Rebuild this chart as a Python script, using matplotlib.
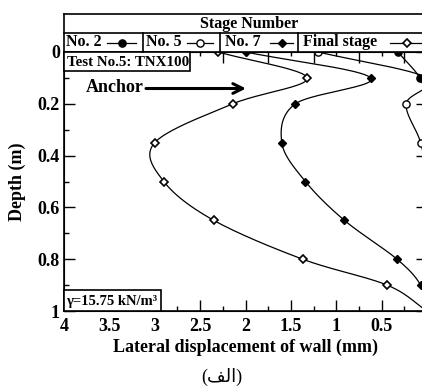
import matplotlib
matplotlib.use('Agg')
import matplotlib.pyplot as plt
import numpy as np
from matplotlib.patches import Rectangle
from matplotlib.ticker import FixedLocator, FuncFormatter

plt.rcParams['font.family'] = ['Liberation Serif', 'DejaVu Sans']
plt.rcParams['font.weight'] = 'bold'
plt.rcParams['axes.labelweight'] = 'bold'

depth = [0.0, 0.1, 0.2, 0.35, 0.5, 0.65, 0.8, 0.9, 1.0]
stage_2 = [0.32, 0.08, 0.0, 0.0, 0.0, 0.0, 0.0, 0.0, 0.0]
stage_5 = [1.20, 0.0, 0.23, 0.07, 0.0, 0.0, 0.0, 0.0, 0.0]
stage_7 = [2.00, 0.62, 1.45, 1.60, 1.34, 0.91, 0.33, 0.07, 0.0]
final_stage = [2.30, 1.32, 2.14, 3.00, 2.90, 2.35, 1.37, 0.44, 0.0]

stage_names = ['No. 2', 'No. 5', 'No. 7', 'Final stage']

W, H = 422, 387


def smooth(x, y, n=24):
    # Catmull-Rom curve through the points, x scaled to the axes aspect
    sx = 0.35
    pts = np.column_stack([np.asarray(x) * sx, np.asarray(y)])
    p = np.vstack([2 * pts[0] - pts[1], pts, 2 * pts[-1] - pts[-2]])
    t = np.linspace(0, 1, n, endpoint=False)[:, None]
    out = []
    for i in range(1, len(p) - 2):
        p0, p1, p2, p3 = p[i - 1], p[i], p[i + 1], p[i + 2]
        seg = 0.5 * (2 * p1 + (-p0 + p2) * t
                     + (2 * p0 - 5 * p1 + 4 * p2 - p3) * t ** 2
                     + (-p0 + 3 * p1 - 3 * p2 + p3) * t ** 3)
        out.append(seg)
    out.append(pts[-1:])
    out = np.vstack(out)
    return out[:, 0] / sx, out[:, 1]


def px(v):
    # pixels to points at dpi 100
    return v * 0.72


def x_label(v, pos):
    # the zero tick sits past the right edge, leave it blank
    return '' if abs(v) < 1e-9 else '%g' % v


fig = plt.figure(figsize=(W / 100, H / 100), dpi=100)

ax = fig.add_axes([64 / W, (H - 311) / H, (427 - 64) / W, (311 - 52) / H])
ax.set_xlim(4, 0)
ax.set_ylim(1, 0)

styles = [
    dict(marker='o', mfc='black', mec='black', ms=5.2),
    dict(marker='o', mfc='white', mec='black', ms=5.2, mew=1.0),
    dict(marker='D', mfc='black', mec='black', ms=4.2),
    dict(marker='D', mfc='white', mec='black', ms=4.2, mew=1.2),
]
series = [stage_2, stage_5, stage_7, final_stage]

for values, st in zip(series, styles):
    sx, sy = smooth(values, depth)
    ax.plot(sx, sy, color='black', lw=0.9, zorder=2)
    ax.plot(values, depth, ls='none', zorder=3, **st)

ax.xaxis.set_major_locator(FixedLocator(np.arange(0, 4.01, 0.5)))
ax.xaxis.set_minor_locator(FixedLocator(np.arange(0.25, 4, 0.5)))
ax.yaxis.set_major_locator(FixedLocator(np.arange(0, 1.01, 0.2)))
ax.yaxis.set_minor_locator(FixedLocator(np.arange(0.1, 1, 0.2)))
ax.xaxis.set_major_formatter(FuncFormatter(x_label))
ax.yaxis.set_major_formatter(FuncFormatter(lambda v, p: '%g' % round(v, 1)))
ax.tick_params(which='both', direction='in', top=False, right=True,
               width=1.0, labelsize=13, pad=3)
ax.tick_params(which='major', length=px(11))
ax.tick_params(which='minor', length=px(5))
ax.tick_params(axis='x', pad=5)
for s in ax.spines.values():
    s.set_linewidth(1.2)

# top axis carries its own tick pattern
top = ax.twiny()
top.set_xlim(4, 0)
top.xaxis.set_major_locator(FixedLocator(np.arange(0.25, 4, 0.5)))
top.xaxis.set_minor_locator(FixedLocator(np.arange(0, 4.01, 0.5)))
top.tick_params(which='both', direction='in', labeltop=False, width=1.0)
top.tick_params(which='major', length=px(11))
top.tick_params(which='minor', length=px(4))

ax.set_xlabel('Lateral displacement of wall (mm)', fontsize=13)
ax.xaxis.set_label_coords(0.5, -0.105)
ax.set_ylabel('Depth (m)', fontsize=13)
ax.yaxis.set_label_coords(-0.105, 0.5)

# overlay in pixel units for the header and notes
ov = fig.add_axes([0, 0, 1, 1], zorder=5)
ov.set_xlim(0, W)
ov.set_ylim(H, 0)
ov.axis('off')
ov.patch.set_alpha(0)

lw = 1.2
ov.plot([64, 430], [14, 14], color='black', lw=lw)
ov.plot([64, 64], [14, 52], color='black', lw=lw)
ov.plot([64, 430], [33, 33], color='black', lw=lw)
for xd in [142.5, 220, 297.5]:
    ov.plot([xd, xd], [33, 52], color='black', lw=lw)
ov.text(249, 24, 'Stage Number', ha='center', va='center', fontsize=11.5)

label_x = [66, 146, 225, 303]
sample_x = [(107, 136), (187, 213), (270, 293), (390, 424)]
for name, lx, (a, b), st in zip(stage_names, label_x, sample_x, styles):
    ov.text(lx, 42.5, name, ha='left', va='center', fontsize=11.5)
    ov.plot([a, b], [42.5, 42.5], color='black', lw=0.9)
    ov.plot([(a + b) / 2 if b < 420 else 406.5], [42.5], ls='none', **st)

ov.add_patch(Rectangle((64, 52), 126, 19, fc='white', ec='black', lw=lw))
ov.text(67, 62, 'Test No.5: TNX100', ha='left', va='center', fontsize=10.8)

ov.add_patch(Rectangle((64, 290), 97, 21, fc='white', ec='black', lw=lw))
ov.text(66, 301, 'γ=15.75 kN/m³', ha='left', va='center', fontsize=10.5)

ov.text(86, 88, 'Anchor', ha='left', va='center', fontsize=13)
ov.annotate('', xy=(246, 88.5), xytext=(146, 88.5),
            arrowprops=dict(arrowstyle='->,head_length=0.7,head_width=0.35',
                            lw=2.2, color='black', shrinkA=0, shrinkB=0))

ov.text(222, 377, '(\ufed2\ufedf\ufe8d)', ha='center', va='center',
        fontsize=13, fontweight='normal')

fig.savefig('out.png', dpi=100)
